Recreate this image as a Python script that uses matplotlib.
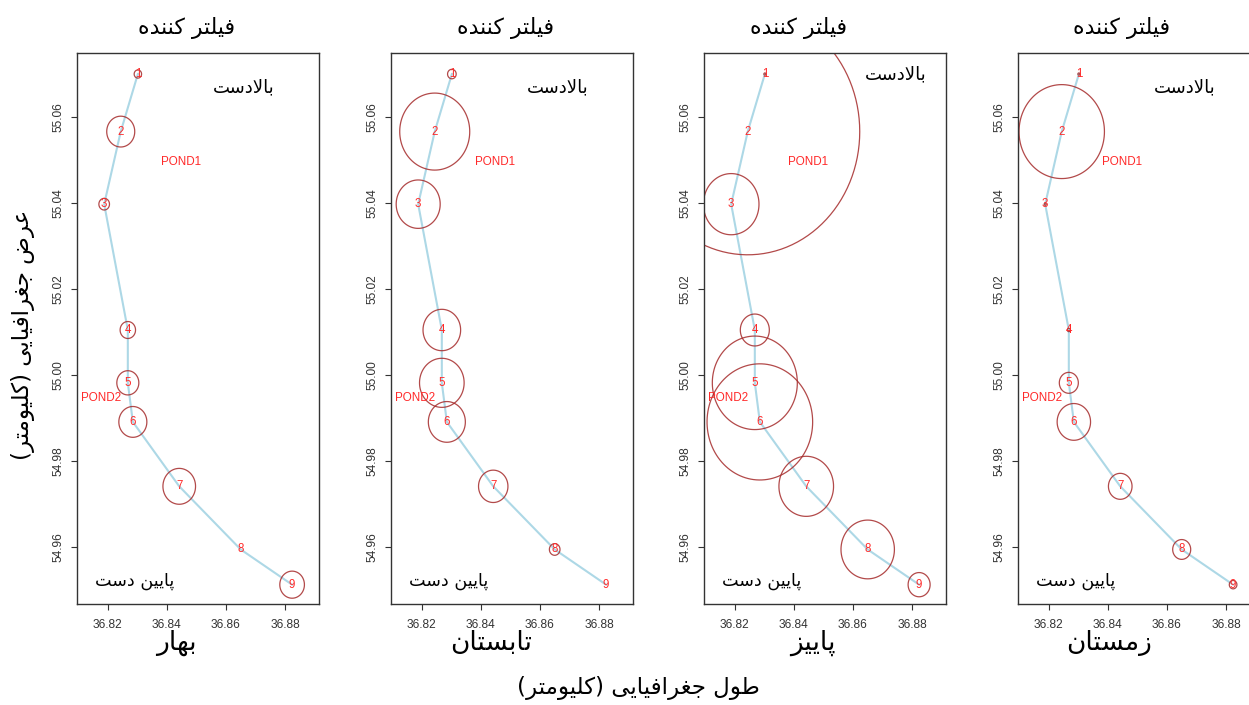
import matplotlib
matplotlib.use('Agg')
import matplotlib.pyplot as plt
from matplotlib.path import Path
import numpy as np

# station coordinates along the river
lon = [36.8302, 36.8244, 36.8188, 36.8268, 36.8268, 36.8285, 36.8442, 36.8650, 36.8824]
lat = [55.0701, 55.0567, 55.0398, 55.0105, 54.9982, 54.9891, 54.9741, 54.9594, 54.9512]
stations = ['1', '2', '3', '4', '5', '6', '7', '8', '9']

seasons = ['بهار', 'تابستان', 'پاییز', 'زمستان']
# circle size per station (read from the bubbles)
spring = [3.7, 14, 5.3, 7.7, 11, 14, 16.3, 0, 12.3]
summer = [4.3, 35, 22, 18.8, 22.3, 18.5, 14.7, 5.3, 0]
autumn = [1, 112, 27.8, 14.5, 42.5, 52.8, 27.3, 26.7, 11]
winter = [1, 42.7, 1, 1.5, 9.5, 16.7, 11.8, 9, 3.8]
values = [spring, summer, autumn, winter]

title_txt = 'فیلتر کننده'
up_txt = 'بالادست'
down_txt = 'پایین دست'
xlab = 'طول جغرافیایی (کلیومتر)'
ylab = 'عرض جغرافیایی (کلیومتر)'

# arabic presentation forms: isolated, final, initial, medial
FORMS = {
    'ا': ('\uFE8D', '\uFE8E', None, None),
    'ب': ('\uFE8F', '\uFE90', '\uFE91', '\uFE92'),
    'ت': ('\uFE95', '\uFE96', '\uFE97', '\uFE98'),
    'ج': ('\uFE9D', '\uFE9E', '\uFE9F', '\uFEA0'),
    'د': ('\uFEA9', '\uFEAA', None, None),
    'ر': ('\uFEAD', '\uFEAE', None, None),
    'ز': ('\uFEAF', '\uFEB0', None, None),
    'س': ('\uFEB1', '\uFEB2', '\uFEB3', '\uFEB4'),
    'ض': ('\uFEBD', '\uFEBE', '\uFEBF', '\uFEC0'),
    'ط': ('\uFEC1', '\uFEC2', '\uFEC3', '\uFEC4'),
    'ع': ('\uFEC9', '\uFECA', '\uFECB', '\uFECC'),
    'غ': ('\uFECD', '\uFECE', '\uFECF', '\uFED0'),
    'ف': ('\uFED1', '\uFED2', '\uFED3', '\uFED4'),
    'ل': ('\uFEDD', '\uFEDE', '\uFEDF', '\uFEE0'),
    'م': ('\uFEE1', '\uFEE2', '\uFEE3', '\uFEE4'),
    'ن': ('\uFEE5', '\uFEE6', '\uFEE7', '\uFEE8'),
    'ه': ('\uFEE9', '\uFEEA', '\uFEEB', '\uFEEC'),
    'و': ('\uFEED', '\uFEEE', None, None),
    'پ': ('\uFB56', '\uFB57', '\uFB58', '\uFB59'),
    'ک': ('\uFB8E', '\uFB8F', '\uFB90', '\uFB91'),
    'ی': ('\uFBFC', '\uFBFD', '\uFBFE', '\uFBFF'),
}


def fa(text):
    # shape persian letters and put them in visual (left to right) order
    out = []
    prev = False
    i = 0
    while i < len(text):
        c = text[i]
        if c not in FORMS:
            out.append(c)
            prev = False
            i += 1
            continue
        if c == 'ل' and i + 1 < len(text) and text[i + 1] == 'ا':
            out.append('\uFEFC' if prev else '\uFEFB')
            prev = False
            i += 2
            continue
        nxt = text[i + 1] if i + 1 < len(text) else ''
        link = FORMS[c][2] is not None and nxt in FORMS
        iso, fin, ini, med = FORMS[c]
        if prev and link:
            out.append(med)
        elif prev:
            out.append(fin)
        elif link:
            out.append(ini)
        else:
            out.append(iso)
        prev = link
        i += 1
    return ''.join(reversed(out)).translate(str.maketrans('()', ')('))


W, H = 1249, 705
fig = plt.figure(figsize=(W / 100, H / 100), dpi=100)

# bubbles are slightly taller than wide in the original
t = np.linspace(0, 2 * np.pi, 120)
ell = Path(np.column_stack([np.cos(t), 1.1 * np.sin(t)]))

lefts = [77, 391, 704, 1018]
title_x = [186.5, 506, 799, 1121.7]
season_x = [176, 491, 813, 1109]
up_pos = [(36.866, 55.067), (36.866, 55.067), (36.8744, 55.0701), (36.866, 55.067)]

for k in range(4):
    ax = fig.add_axes([lefts[k] / W, 101 / H, 242 / W, 551 / H])
    ax.plot(lon, lat, color='lightblue', lw=1.5, zorder=1)
    r = np.array(values[k])
    ax.scatter(lon, lat, s=(2 * r * 1.1 * 0.72) ** 2, marker=ell, facecolors='none',
               edgecolors='#A52A2A', linewidths=0.9, alpha=0.85, zorder=2)
    for x, y, s in zip(lon, lat, stations):
        ax.text(x, y, s, color='#ff2a2a', fontsize=8.3, family='Liberation Sans',
                ha='center', va='center', zorder=3)
    ax.text(36.8448, 55.0496, 'POND1', color='#ff2a2a', fontsize=8.4,
            family='Liberation Sans', ha='center', va='center')
    ax.text(36.8177, 54.9947, 'POND2', color='#ff2a2a', fontsize=8.4,
            family='Liberation Sans', ha='center', va='center')
    ax.text(up_pos[k][0], up_pos[k][1], fa(up_txt), fontsize=13, family='DejaVu Sans',
            ha='center', va='center')
    ax.text(36.8292, 54.9521, fa(down_txt), fontsize=12.6, family='DejaVu Sans',
            ha='center', va='center')

    ax.set_xlim(36.8096, 36.8915)
    ax.set_ylim(54.9467, 55.075)
    ax.set_xticks([36.82, 36.84, 36.86, 36.88])
    ax.set_xticklabels(['36.82', '36.84', '36.86', '36.88'])
    ax.set_yticks([54.96, 54.98, 55.00, 55.02, 55.04, 55.06])
    ax.set_yticklabels(['54.96', '54.98', '55.00', '55.02', '55.04', '55.06'],
                       rotation=90, va='center')
    ax.tick_params(length=4, width=0.8, color='#333333', labelcolor='#333333',
                   labelsize=8.6)
    ax.tick_params(axis='x', pad=7)
    ax.tick_params(axis='y', pad=5)
    for lbl in ax.get_xticklabels() + ax.get_yticklabels():
        lbl.set_family('Liberation Sans')
    for sp in ax.spines.values():
        sp.set_color('#333333')
        sp.set_linewidth(1)

    fig.text(title_x[k] / W, 1 - 28 / H, fa(title_txt), fontsize=15.8,
             family='DejaVu Sans', ha='center', va='center')
    fig.text(season_x[k] / W, 1 - 643 / H, fa(seasons[k]), fontsize=19,
             family='DejaVu Sans', ha='center', va='center')

fig.text(638 / W, 1 - 688 / H, fa(xlab), fontsize=16.5, family='DejaVu Sans',
         ha='center', va='center')
fig.text(23 / W, 1 - 335 / H, fa(ylab), fontsize=16.5, family='DejaVu Sans',
         ha='center', va='center', rotation=90)

fig.savefig('out.png', dpi=100)
